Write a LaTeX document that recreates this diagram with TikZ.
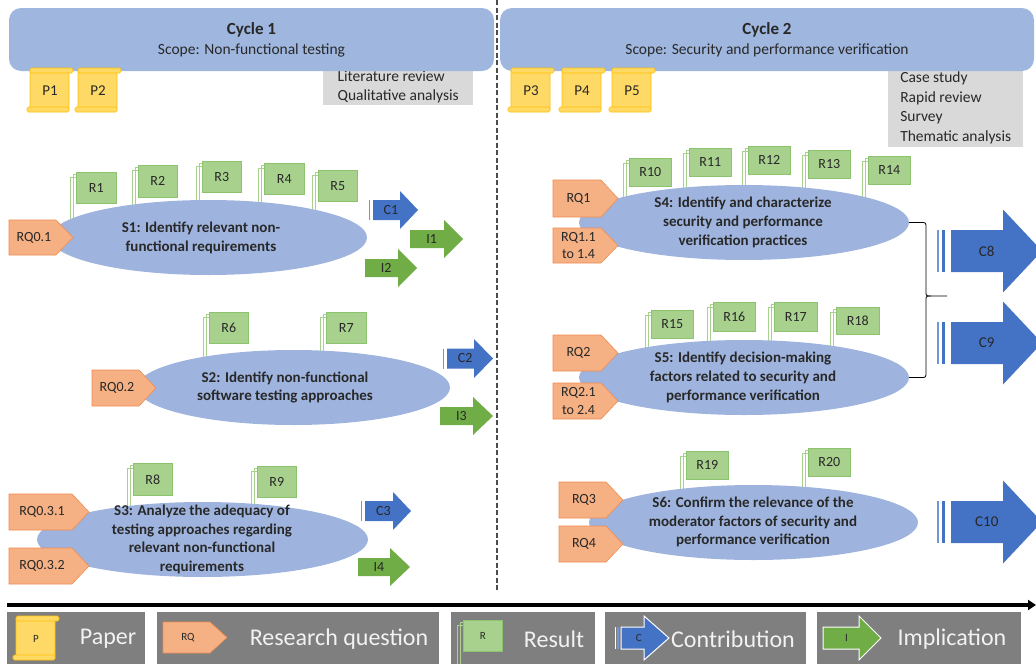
\documentclass[tikz,border=0pt]{standalone}
\usepackage{fontspec}
\setmainfont{Carlito}
\usetikzlibrary{shapes.geometric,arrows.meta}

\definecolor{bannerblue}{RGB}{159,182,223}
\definecolor{stageblue}{RGB}{158,180,222}
\definecolor{rqfill}{RGB}{245,176,132}
\definecolor{rqline}{RGB}{240,140,80}
\definecolor{rfill}{RGB}{169,209,142}
\definecolor{rline}{RGB}{140,195,110}
\definecolor{cblue}{RGB}{68,114,196}
\definecolor{igreen}{RGB}{112,173,71}
\definecolor{paperfill}{RGB}{255,217,102}
\definecolor{paperline}{RGB}{255,192,0}
\definecolor{methodgray}{RGB}{217,217,217}
\definecolor{leggray}{RGB}{127,127,127}
\definecolor{textdark}{RGB}{40,40,40}

\tikzset{
  banner/.style={fill=bannerblue, rounded corners=12, minimum height=63, align=center, text=textdark, inner sep=0, font=\fontsize{15.5}{20}\selectfont},
  method/.style={fill=methodgray, anchor=north west, align=left, inner xsep=10, inner ysep=0, text=textdark, font=\fontsize{15.5}{19.5}\selectfont},
  stage/.style={ellipse, fill=stageblue, inner sep=0, minimum height=75},
  stagetext/.style={align=center, text=textdark, inner sep=0, font=\fontsize{15}{18.8}\selectfont\bfseries},
  rqshape/.style={fill=rqfill, draw=rqline, line width=0.6},
  rqtext/.style={align=center, text=textdark, inner sep=0, font=\fontsize{14}{17.5}\selectfont},
  rbox/.style={fill=rfill, draw=rline, line width=0.6, anchor=north west, inner sep=0, text=textdark, font=\fontsize{14}{17}\selectfont},
  stack/.style={draw=rfill, line width=0.7},
  paperbody/.style={fill=paperfill, draw=paperline, line width=0.6, rounded corners=1.5},
  papertext/.style={text=textdark, inner sep=0, font=\fontsize{15}{18}\selectfont},
  carrow/.style={fill=cblue},
  iarrow/.style={fill=igreen},
  arrowtext/.style={text=textdark, inner sep=0, font=\fontsize{14}{17}\selectfont},
  cstripe/.style={draw=cblue!75, line width=1},
  braceline/.style={draw=black, line width=0.8},
  sepline/.style={draw=black!70, line width=1.3, dash pattern=on 5pt off 2.5pt},
  legbox/.style={fill=leggray, anchor=north west, minimum height=52, inner sep=0},
  legtext/.style={text=white!95!black, inner sep=0, font=\fontsize{24}{28}\selectfont}
}

% paper scroll: name, left, top, label
\newcommand{\paperdoc}[4]{%
  \filldraw[paperbody] ({#2+4},{#3+2}) rectangle ({#2+43},{#3+42});
  \filldraw[paperbody] ({#2+1},{#3+39}) rectangle ({#2+43},{#3+44});
  \filldraw[paperbody] ({#2+4},{#3}) rectangle ({#2+47},{#3+5});
  \node[papertext] (#1) at ({#2+24},{#3+23}) {#4};}

% research question tag: name, left, top, right, bottom, label
\newcommand{\rqtag}[6]{%
  \filldraw[rqshape] ({#2},{#3}) -- ({#4-17},{#3}) -- ({#4},{(#3+#5)/2}) -- ({#4-17},{#5}) -- ({#2},{#5}) -- cycle;
  \node[rqtext] (#1) at ({(#2+#4-14)/2},{(#3+#5)/2}) {#6};}

% result box: name, left, top, right, bottom, label, end of stack lines
\newcommand{\resbox}[7]{%
  \draw[stack] ({#2-6},{#7}) |- ({#2},{#3+5});
  \draw[stack] ({#2-3},{#7}) |- ({#2},{#3+2});
  \node[rbox, minimum width={#4-#2}, minimum height={#5-#3}] (#1) at ({#2},{#3}) {#6};}

% block arrow: name, style, left, head base, tip, middle, body half, head half, label
\newcommand{\blockarrow}[9]{%
  \fill[#2] ({#3},{#6-#7}) -- ({#4},{#6-#7}) -- ({#4},{#6-#8}) -- ({#5},{#6}) -- ({#4},{#6+#8}) -- ({#4},{#6+#7}) -- ({#3},{#6+#7}) -- cycle;
  \node[arrowtext] (#1) at ({(#3+#4)/2+(#5-#4)/4},{#6}) {#9};}

\begin{document}
\begin{tikzpicture}[x=1pt, y=-1pt]
  \useasboundingbox (0,0) rectangle (1036,664);
  \clip (0,0) rectangle (1036,664);

  % separator between the cycles
  \coordinate (septop) at (497,0);
  \coordinate (sepbottom) at (497,590);
  \draw[sepline] (septop) -- (sepbottom);

  % methods
  \node[method, minimum width=150, minimum height=37] (method1) at (323,68) {Literature review\\Qualitative analysis};
  \node[method, minimum width=135, minimum height=79] (method2) at (888,68) {Case study\\Rapid review\\Survey\\Thematic analysis};

  % cycles
  \node[banner, minimum width=485] (cycle1) at (251.5,39.5) {{\fontsize{17}{20}\selectfont\bfseries Cycle 1}\\Scope: Non-functional testing};
  \node[banner, minimum width=534] (cycle2) at (767,39.5) {{\fontsize{17}{20}\selectfont\bfseries Cycle 2}\\Scope: Security and performance verification};

  % papers
  \paperdoc{p1}{26}{68}{P1}
  \paperdoc{p2}{74}{68}{P2}
  \paperdoc{p3}{507}{68}{P3}
  \paperdoc{p4}{558}{68}{P4}
  \paperdoc{p5}{608}{68}{P5}

  % results
  \resbox{r1}{76}{172}{116}{203}{R1}{237}
  \resbox{r2}{138}{165}{177}{197}{R2}{237}
  \resbox{r3}{202}{161}{241}{192}{R3}{237}
  \resbox{r4}{264}{163}{304}{194}{R4}{237}
  \resbox{r5}{318}{170}{357}{201}{R5}{237}
  \resbox{r6}{209}{312}{248}{343}{R6}{387}
  \resbox{r7}{326}{312}{366}{343}{R7}{387}
  \resbox{r8}{133}{463}{172}{495}{R8}{539}
  \resbox{r9}{257}{466}{296}{497}{R9}{539}
  \resbox{r10}{629}{158}{671}{186}{R10}{222}
  \resbox{r11}{689}{148}{731}{176}{R11}{222}
  \resbox{r12}{748}{146}{790}{174}{R12}{222}
  \resbox{r13}{808}{150}{850}{178}{R13}{222}
  \resbox{r14}{868}{156}{910}{184}{R14}{222}
  \resbox{r15}{651}{310}{693}{338}{R15}{377}
  \resbox{r16}{713}{302}{755}{331}{R16}{377}
  \resbox{r17}{774}{302}{817}{331}{R17}{377}
  \resbox{r18}{836}{307}{879}{334}{R18}{377}
  \resbox{r19}{686}{451}{728}{479}{R19}{522}
  \resbox{r20}{808}{448}{850}{476}{R20}{522}

  % studies
  \node[stage, minimum width=317] (s1) at (208.5,237.5) {};
  \node[stagetext] (s1label) at (201,238) {S1: Identify relevant non-\\functional requirements};
  \node[stage, minimum width=313] (s2) at (293.5,387.5) {};
  \node[stagetext] (s2label) at (285,387.5) {S2: Identify non-functional\\software testing approaches};
  \node[stage, minimum width=331] (s3) at (202.5,539.5) {};
  \node[stagetext] (s3label) at (202,539.5) {S3: Analyze the adequacy of\\testing approaches regarding\\relevant non-functional\\requirements};
  \node[stage, minimum width=330] (s4) at (744,222.5) {};
  \node[stagetext] (s4label) at (743,222.5) {S4: Identify and characterize\\security and performance\\verification practices};
  \node[stage, minimum width=330] (s5) at (744,377.5) {};
  \node[stagetext] (s5label) at (743,377.5) {S5: Identify decision-making\\factors related to security and\\performance verification};
  \node[stage, minimum width=329] (s6) at (753.5,522.5) {};
  \node[stagetext] (s6label) at (753,522) {S6: Confirm the relevance of the\\moderator factors of security and\\performance verification};

  % research questions
  \rqtag{rq01}{9}{220}{73}{255}{RQ0.1}
  \rqtag{rq02}{92}{370}{156}{406}{RQ0.2}
  \rqtag{rq031}{9}{494}{89}{530}{RQ0.3.1}
  \rqtag{rq032}{9}{548}{89}{584}{RQ0.3.2}
  \rqtag{rq1}{553}{180}{618}{217}{RQ1}
  \rqtag{rq11}{553}{228}{618}{263}{RQ1.1\\to 1.4}
  \rqtag{rq2}{553}{335}{618}{371}{RQ2}
  \rqtag{rq21}{553}{383}{618}{419}{RQ2.1\\to 2.4}
  \rqtag{rq3}{559}{482}{623}{518}{RQ3}
  \rqtag{rq4}{559}{526}{623}{562}{RQ4}

  % contributions and implications, cycle 1
  \draw[cstripe] (369,200) -- (369,220);
  \blockarrow{c1}{carrow}{373}{400}{418}{210}{10}{19}{C1}
  \blockarrow{i1}{iarrow}{410}{444}{463}{239}{9}{19}{I1}
  \blockarrow{i2}{iarrow}{365}{398}{417}{268}{9}{19}{I2}
  \draw[cstripe] (443,348.5) -- (443,368.5);
  \blockarrow{c2}{carrow}{447}{474}{493}{358.5}{10}{19.5}{C2}
  \blockarrow{i3}{iarrow}{440}{473}{493}{416}{9}{19}{I3}
  \draw[cstripe] (361,501) -- (361,521);
  \blockarrow{c3}{carrow}{365}{393}{411}{511}{10}{19}{C3}
  \blockarrow{i4}{iarrow}{358}{390}{410}{567}{9}{19}{I4}

  % contributions, cycle 2
  \draw[braceline] (s4.east) -- (921,222.5) .. controls (926,222.5) .. (926,228) -- (926,291) .. controls (926,296) .. (931,296) -- (947,296);
  \draw[braceline] (931,296) .. controls (926,296) .. (926,301) -- (926,372) .. controls (926,377.5) .. (921,377.5) -- (s5.east);
  \foreach \ym in {251,343,522} {
    \draw[cstripe, line width=1.3] (938,\ym-21) -- (938,\ym+21);
    \draw[cstripe, draw=cblue, line width=3] (943.5,\ym-21) -- (943.5,\ym+21);
  }
  \blockarrow{c8}{carrow}{951}{1003}{1042}{251}{21}{41.5}{\fontsize{15}{18}\selectfont C8}
  \blockarrow{c9}{carrow}{951}{1003}{1042}{343}{21}{41.5}{\fontsize{15}{18}\selectfont C9}
  \blockarrow{c10}{carrow}{951}{1003}{1042}{522}{21}{41.5}{\fontsize{15}{18}\selectfont C10}

  % timeline
  \coordinate (tstart) at (7,605);
  \coordinate (tend) at (1036,605);
  \draw[line width=3.5, -{Triangle[length=8pt,width=10pt]}] (tstart) -- (tend);

  % legend
  \node[legbox, minimum width=138] (legpaperbox) at (7,612) {};
  \node[legbox, minimum width=282] (legrqbox) at (157,612) {};
  \node[legbox, minimum width=144] (legrbox) at (451,612) {};
  \node[legbox, minimum width=201] (legcbox) at (605,612) {};
  \node[legbox, minimum width=204] (legibox) at (817,612) {};
  \paperdoc{legp}{12}{616}{{\fontsize{11}{13}\selectfont P}}
  \rqtag{legrq}{163}{622}{227}{653}{{\fontsize{11}{13}\selectfont RQ}}
  \resbox{legr}{463}{620}{502}{651}{{\fontsize{11}{13}\selectfont R}}{664}
  \draw[cstripe, draw=white, line width=1] (615,627) -- (615,649);
  \draw[cstripe, line width=2] (618,627) -- (618,649);
  \blockarrow{legc}{carrow, draw=white, line width=1}{621}{644}{669}{638}{11}{22}{{\fontsize{11}{13}\selectfont C}}
  \blockarrow{legi}{iarrow, draw=white, line width=1}{823}{859}{881}{638}{11}{22}{{\fontsize{11}{13}\selectfont I}}
  \node[legtext] (legpaper) at (108,639) {Paper};
  \node[legtext] (legrq) at (339,639) {Research question};
  \node[legtext] (legr) at (554,639) {Result};
  \node[legtext] (legc) at (733,639) {Contribution};
  \node[legtext] (legi) at (952,639) {Implication};

\end{tikzpicture}
\end{document}
